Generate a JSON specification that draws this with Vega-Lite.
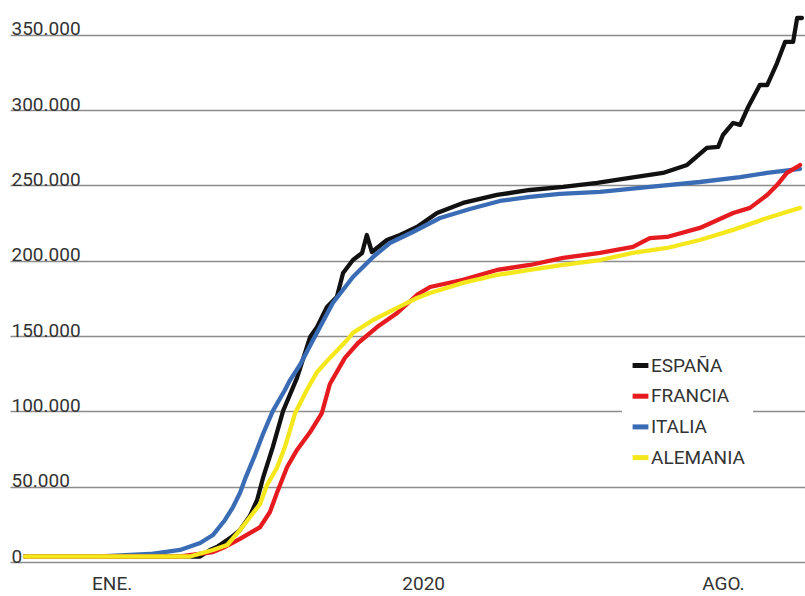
{
  "$schema": "https://vega.github.io/schema/vega-lite/v6.json",
  "width": 795,
  "height": 552,
  "autosize": "none",
  "padding": {"left": 10, "top": 10, "right": 0, "bottom": 34},
  "background": "white",
  "config": {"view": {"stroke": null}, "font": "Roboto"},
  "data": {"values": [
    {"pais": "ESPAÑA", "dia": 0, "casos": 3650},
    {"pais": "ESPAÑA", "dia": 20.5, "casos": 3650},
    {"pais": "ESPAÑA", "dia": 34.2, "casos": 3650},
    {"pais": "ESPAÑA", "dia": 47.9, "casos": 3650},
    {"pais": "ESPAÑA", "dia": 50.6, "casos": 8000},
    {"pais": "ESPAÑA", "dia": 52.5, "casos": 10000},
    {"pais": "ESPAÑA", "dia": 56.1, "casos": 15900},
    {"pais": "ESPAÑA", "dia": 58.8, "casos": 21200},
    {"pais": "ESPAÑA", "dia": 61.5, "casos": 30500},
    {"pais": "ESPAÑA", "dia": 63.5, "casos": 41200},
    {"pais": "ESPAÑA", "dia": 65.1, "casos": 55800},
    {"pais": "ESPAÑA", "dia": 67.8, "casos": 76400},
    {"pais": "ESPAÑA", "dia": 70.6, "casos": 100300},
    {"pais": "ESPAÑA", "dia": 74.4, "casos": 122200},
    {"pais": "ESPAÑA", "dia": 78.0, "casos": 149400},
    {"pais": "ESPAÑA", "dia": 79.9, "casos": 156000},
    {"pais": "ESPAÑA", "dia": 82.6, "casos": 169300},
    {"pais": "ESPAÑA", "dia": 85.3, "casos": 176000},
    {"pais": "ESPAÑA", "dia": 87.0, "casos": 191900},
    {"pais": "ESPAÑA", "dia": 89.7, "casos": 200500},
    {"pais": "ESPAÑA", "dia": 92.2, "casos": 205200},
    {"pais": "ESPAÑA", "dia": 93.5, "casos": 217100},
    {"pais": "ESPAÑA", "dia": 94.9, "casos": 205800},
    {"pais": "ESPAÑA", "dia": 99.0, "casos": 213800},
    {"pais": "ESPAÑA", "dia": 102.6, "casos": 217100},
    {"pais": "ESPAÑA", "dia": 107.2, "casos": 222400},
    {"pais": "ESPAÑA", "dia": 112.7, "casos": 231700},
    {"pais": "ESPAÑA", "dia": 119.8, "casos": 238400},
    {"pais": "ESPAÑA", "dia": 129.1, "casos": 243700},
    {"pais": "ESPAÑA", "dia": 138.1, "casos": 247000},
    {"pais": "ESPAÑA", "dia": 147.2, "casos": 249000},
    {"pais": "ESPAÑA", "dia": 156.5, "casos": 251700},
    {"pais": "ESPAÑA", "dia": 163.6, "casos": 254300},
    {"pais": "ESPAÑA", "dia": 174.5, "casos": 258300},
    {"pais": "ESPAÑA", "dia": 181.1, "casos": 263600},
    {"pais": "ESPAÑA", "dia": 186.5, "casos": 274900},
    {"pais": "ESPAÑA", "dia": 189.6, "casos": 275600},
    {"pais": "ESPAÑA", "dia": 190.9, "casos": 283500},
    {"pais": "ESPAÑA", "dia": 193.7, "casos": 291500},
    {"pais": "ESPAÑA", "dia": 195.6, "casos": 290200},
    {"pais": "ESPAÑA", "dia": 197.8, "casos": 302100},
    {"pais": "ESPAÑA", "dia": 201.0, "casos": 316700},
    {"pais": "ESPAÑA", "dia": 203.0, "casos": 316700},
    {"pais": "ESPAÑA", "dia": 205.7, "casos": 331300},
    {"pais": "ESPAÑA", "dia": 207.9, "casos": 345300},
    {"pais": "ESPAÑA", "dia": 210.1, "casos": 345300},
    {"pais": "ESPAÑA", "dia": 211.2, "casos": 361200},
    {"pais": "ESPAÑA", "dia": 212.5, "casos": 361200},

    {"pais": "ITALIA", "dia": 0, "casos": 3650},
    {"pais": "ITALIA", "dia": 20.5, "casos": 3650},
    {"pais": "ITALIA", "dia": 34.2, "casos": 5300},
    {"pais": "ITALIA", "dia": 42.4, "casos": 8000},
    {"pais": "ITALIA", "dia": 47.9, "casos": 12600},
    {"pais": "ITALIA", "dia": 51.4, "casos": 17900},
    {"pais": "ITALIA", "dia": 54.7, "casos": 27900},
    {"pais": "ITALIA", "dia": 56.9, "casos": 36500},
    {"pais": "ITALIA", "dia": 58.8, "casos": 45800},
    {"pais": "ITALIA", "dia": 60.4, "casos": 56400},
    {"pais": "ITALIA", "dia": 62.9, "casos": 71000},
    {"pais": "ITALIA", "dia": 65.1, "casos": 85000},
    {"pais": "ITALIA", "dia": 67.8, "casos": 100300},
    {"pais": "ITALIA", "dia": 71.1, "casos": 114200},
    {"pais": "ITALIA", "dia": 72.5, "casos": 120800},
    {"pais": "ITALIA", "dia": 75.2, "casos": 130800},
    {"pais": "ITALIA", "dia": 78.8, "casos": 147400},
    {"pais": "ITALIA", "dia": 84.2, "casos": 172000},
    {"pais": "ITALIA", "dia": 89.7, "casos": 189200},
    {"pais": "ITALIA", "dia": 95.2, "casos": 202500},
    {"pais": "ITALIA", "dia": 99.8, "casos": 211800},
    {"pais": "ITALIA", "dia": 106.1, "casos": 219100},
    {"pais": "ITALIA", "dia": 113.5, "casos": 228400},
    {"pais": "ITALIA", "dia": 121.7, "casos": 234400},
    {"pais": "ITALIA", "dia": 129.9, "casos": 239700},
    {"pais": "ITALIA", "dia": 138.1, "casos": 242400},
    {"pais": "ITALIA", "dia": 146.3, "casos": 244400},
    {"pais": "ITALIA", "dia": 157.3, "casos": 245700},
    {"pais": "ITALIA", "dia": 170.9, "casos": 249000},
    {"pais": "ITALIA", "dia": 184.6, "casos": 252300},
    {"pais": "ITALIA", "dia": 195.6, "casos": 255600},
    {"pais": "ITALIA", "dia": 203.0, "casos": 258300},
    {"pais": "ITALIA", "dia": 212.0, "casos": 261000},

    {"pais": "FRANCIA", "dia": 0, "casos": 3650},
    {"pais": "FRANCIA", "dia": 20.5, "casos": 3650},
    {"pais": "FRANCIA", "dia": 42.4, "casos": 3650},
    {"pais": "FRANCIA", "dia": 51.4, "casos": 6600},
    {"pais": "FRANCIA", "dia": 54.7, "casos": 10000},
    {"pais": "FRANCIA", "dia": 58.8, "casos": 15300},
    {"pais": "FRANCIA", "dia": 64.3, "casos": 23200},
    {"pais": "FRANCIA", "dia": 67.0, "casos": 33200},
    {"pais": "FRANCIA", "dia": 68.9, "casos": 45800},
    {"pais": "FRANCIA", "dia": 70.3, "casos": 54400},
    {"pais": "FRANCIA", "dia": 71.7, "casos": 63100},
    {"pais": "FRANCIA", "dia": 74.4, "casos": 74400},
    {"pais": "FRANCIA", "dia": 78.0, "casos": 86300},
    {"pais": "FRANCIA", "dia": 81.2, "casos": 98900},
    {"pais": "FRANCIA", "dia": 83.4, "casos": 118200},
    {"pais": "FRANCIA", "dia": 87.5, "casos": 135500},
    {"pais": "FRANCIA", "dia": 91.1, "casos": 145400},
    {"pais": "FRANCIA", "dia": 96.3, "casos": 156000},
    {"pais": "FRANCIA", "dia": 101.8, "casos": 165300},
    {"pais": "FRANCIA", "dia": 107.2, "casos": 177300},
    {"pais": "FRANCIA", "dia": 110.8, "casos": 182600},
    {"pais": "FRANCIA", "dia": 119.8, "casos": 187300},
    {"pais": "FRANCIA", "dia": 129.1, "casos": 193900},
    {"pais": "FRANCIA", "dia": 138.1, "casos": 197200},
    {"pais": "FRANCIA", "dia": 147.2, "casos": 201900},
    {"pais": "FRANCIA", "dia": 157.3, "casos": 205200},
    {"pais": "FRANCIA", "dia": 166.3, "casos": 209200},
    {"pais": "FRANCIA", "dia": 170.9, "casos": 215100},
    {"pais": "FRANCIA", "dia": 175.6, "casos": 215800},
    {"pais": "FRANCIA", "dia": 184.6, "casos": 221800},
    {"pais": "FRANCIA", "dia": 193.7, "casos": 231700},
    {"pais": "FRANCIA", "dia": 198.3, "casos": 235100},
    {"pais": "FRANCIA", "dia": 203.0, "casos": 243700},
    {"pais": "FRANCIA", "dia": 205.7, "casos": 250300},
    {"pais": "FRANCIA", "dia": 208.4, "casos": 258300},
    {"pais": "FRANCIA", "dia": 211.2, "casos": 262300},
    {"pais": "FRANCIA", "dia": 212.0, "casos": 263600},

    {"pais": "ALEMANIA", "dia": 0, "casos": 3650},
    {"pais": "ALEMANIA", "dia": 20.5, "casos": 3650},
    {"pais": "ALEMANIA", "dia": 45.1, "casos": 3650},
    {"pais": "ALEMANIA", "dia": 51.4, "casos": 8000},
    {"pais": "ALEMANIA", "dia": 55.3, "casos": 11300},
    {"pais": "ALEMANIA", "dia": 58.8, "casos": 21200},
    {"pais": "ALEMANIA", "dia": 62.4, "casos": 32500},
    {"pais": "ALEMANIA", "dia": 64.3, "casos": 38500},
    {"pais": "ALEMANIA", "dia": 66.2, "casos": 51100},
    {"pais": "ALEMANIA", "dia": 68.9, "casos": 62400},
    {"pais": "ALEMANIA", "dia": 71.1, "casos": 76400},
    {"pais": "ALEMANIA", "dia": 73.9, "casos": 98900},
    {"pais": "ALEMANIA", "dia": 77.1, "casos": 114200},
    {"pais": "ALEMANIA", "dia": 79.9, "casos": 126200},
    {"pais": "ALEMANIA", "dia": 83.4, "casos": 135500},
    {"pais": "ALEMANIA", "dia": 88.1, "casos": 147400},
    {"pais": "ALEMANIA", "dia": 89.7, "casos": 152100},
    {"pais": "ALEMANIA", "dia": 95.2, "casos": 160700},
    {"pais": "ALEMANIA", "dia": 101.8, "casos": 168700},
    {"pais": "ALEMANIA", "dia": 107.2, "casos": 175300},
    {"pais": "ALEMANIA", "dia": 110.8, "casos": 178600},
    {"pais": "ALEMANIA", "dia": 119.8, "casos": 185300},
    {"pais": "ALEMANIA", "dia": 129.1, "casos": 190600},
    {"pais": "ALEMANIA", "dia": 138.1, "casos": 193900},
    {"pais": "ALEMANIA", "dia": 147.2, "casos": 197200},
    {"pais": "ALEMANIA", "dia": 157.3, "casos": 200500},
    {"pais": "ALEMANIA", "dia": 166.3, "casos": 205200},
    {"pais": "ALEMANIA", "dia": 175.6, "casos": 208500},
    {"pais": "ALEMANIA", "dia": 184.6, "casos": 213800},
    {"pais": "ALEMANIA", "dia": 193.7, "casos": 220500},
    {"pais": "ALEMANIA", "dia": 203.0, "casos": 228400},
    {"pais": "ALEMANIA", "dia": 212.0, "casos": 235100}
  ]},
  "mark": {"type": "line", "strokeWidth": 4.3, "strokeJoin": "round", "strokeCap": "round"},
  "encoding": {
    "x": {
      "field": "dia",
      "type": "quantitative",
      "scale": {"domain": [-4.1, 213.35], "nice": false, "zero": false},
      "axis": {
        "title": null,
        "values": [23.7, 108.9, 190.9],
        "labelExpr": "datum.value < 50 ? 'ENE.' : (datum.value < 150 ? '2020' : 'AGO.')",
        "grid": false,
        "domain": false,
        "ticks": false,
        "tickSize": 0,
        "labelPadding": 12,
        "labelBaseline": "top",
        "labelFontSize": 19,
        "labelColor": "#333333",
        "labelFlush": false,
        "labelOverlap": false
      }
    },
    "y": {
      "field": "casos",
      "type": "quantitative",
      "scale": {"domain": [0, 366500], "nice": false},
      "axis": {
        "title": null,
        "values": [0, 50000, 100000, 150000, 200000, 250000, 300000, 350000],
        "labelExpr": "replace(format(datum.value, ','), ',', '.')",
        "grid": true,
        "gridColor": "#8c8c8c",
        "gridWidth": 1.3,
        "domain": false,
        "ticks": false,
        "tickSize": 0,
        "labelAlign": "left",
        "labelBaseline": "alphabetic",
        "labelPadding": -1,
        "labelDy": -3,
        "labelFontSize": 19,
        "labelColor": "#333333",
        "labelFlush": false,
        "labelOverlap": false
      }
    },
    "color": {
      "field": "pais",
      "type": "nominal",
      "scale": {
        "domain": ["ESPAÑA", "FRANCIA", "ITALIA", "ALEMANIA"],
        "range": ["#111111", "#e61b20", "#3a6cb6", "#f4e81c"]
      },
      "legend": {
        "title": null,
        "orient": "none",
        "legendX": 612,
        "legendY": 337,
        "symbolType": "stroke",
        "symbolStrokeWidth": 5,
        "symbolSize": 250,
        "labelFontSize": 19,
        "labelColor": "#333333",
        "labelOffset": 0,
        "rowPadding": 9.7,
        "padding": 8,
        "fillColor": "white",
        "strokeColor": null
      }
    }
  }
}
